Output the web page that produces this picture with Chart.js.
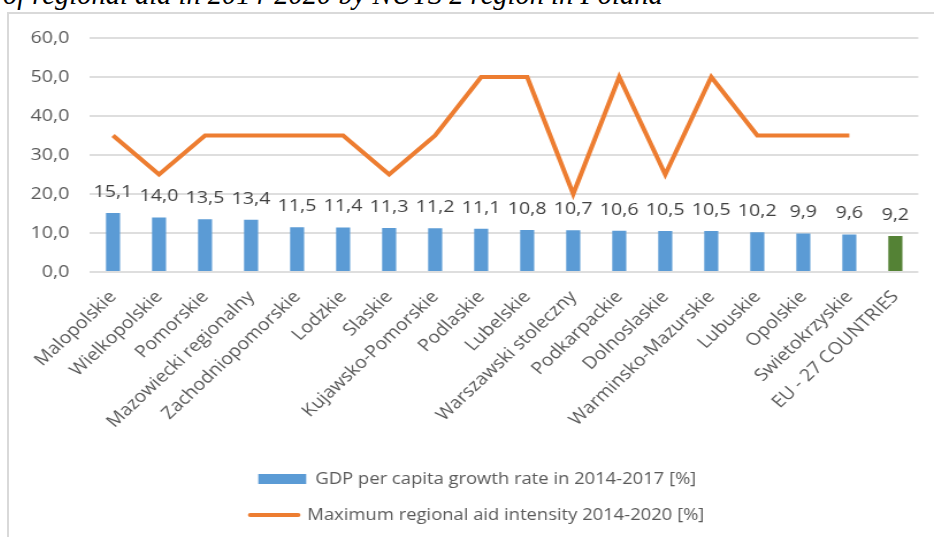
<!DOCTYPE html>
<html>
<head>
<meta charset="utf-8">
<script src="https://cdn.jsdelivr.net/npm/chart.js@4.4.0/dist/chart.umd.min.js"></script>
<style>
  html, body { margin: 0; padding: 0; background: #fff; overflow: hidden; }
  body { width: 934px; height: 537px; position: relative; }
  #title { position: absolute; left: 3px; top: -20px; font: italic 28.5px/29px "Liberation Serif", serif; color: #000; white-space: nowrap; }
  #frame { position: absolute; left: 7px; top: 12px; width: 927px; height: 525px; box-sizing: border-box; border-left: 2px solid #d9d9d9; border-top: 2px solid #d9d9d9; }
  #wrap { position: absolute; left: 9px; top: 14px; width: 804px; height: 523px; transform: scaleX(1.1505); transform-origin: 0 0; }
</style>
</head>
<body>
<div id="title">of regional aid in 2014-2020 by NUTS 2 region in Poland</div>
<div id="frame"></div>
<div id="wrap"><canvas id="chart" width="804" height="523"></canvas></div>
<script>
const regions = ['Malopolskie', 'Wielkopolskie', 'Pomorskie', 'Mazowiecki regionalny', 'Zachodniopomorskie',
  'Lodzkie', 'Slaskie', 'Kujawsko-Pomorskie', 'Podlaskie', 'Lubelskie', 'Warszawski stoleczny',
  'Podkarpackie', 'Dolnoslaskie', 'Warminsko-Mazurskie', 'Lubuskie', 'Opolskie', 'Swietokrzyskie',
  'EU - 27 COUNTRIES'];
const gdpGrowth = [15.1, 14.0, 13.5, 13.4, 11.5, 11.4, 11.3, 11.2, 11.1, 10.8, 10.7, 10.6, 10.5, 10.5, 10.2, 9.9, 9.6, 9.2];
const aidIntensity = [35, 25, 35, 35, 35, 35, 25, 35, 50, 50, 20, 50, 25, 50, 35, 35, 35, null];
const yTicks = [0, 10, 20, 30, 40, 50, 60];

const BLUE = '#5B9BD5';
const GREEN = '#548235';
const ORANGE = '#ED7D31';

Chart.defaults.font.family = '"Open Sans", sans-serif';

function fmt(v) {
  return v.toFixed(1).replace('.', ',');
}

// value labels above the bars
const valueLabels = {
  id: 'valueLabels',
  afterDatasetsDraw(chart) {
    const meta = chart.getDatasetMeta(0);
    const ctx = chart.ctx;
    ctx.save();
    ctx.font = '17px "Open Sans"';
    ctx.fillStyle = '#404040';
    ctx.textAlign = 'center';
    ctx.textBaseline = 'middle';
    meta.data.forEach(function(bar, i) {
      ctx.fillText(fmt(gdpGrowth[i]), bar.x, bar.y - 21);
    });
    ctx.restore();
  }
};

new Chart(document.getElementById('chart'), {
  data: {
    labels: regions,
    datasets: [{
      type: 'bar',
      label: 'GDP per capita growth rate in 2014-2017 [%]',
      data: gdpGrowth,
      backgroundColor: regions.map(r => r.startsWith('EU') ? GREEN : BLUE),
      barPercentage: 0.305,
      categoryPercentage: 1,
      order: 1
    }, {
      type: 'line',
      label: 'Maximum regional aid intensity 2014-2020 [%]',
      data: aidIntensity,
      borderColor: ORANGE,
      borderWidth: 4,
      pointRadius: 0,
      tension: 0,
      fill: false,
      order: 0
    }]
  },
  options: {
    responsive: false,
    animation: false,
    layout: {
      padding: { top: 24, left: 14, right: 4, bottom: 4 }
    },
    plugins: {
      tooltip: { enabled: false },
      legend: {
        position: 'bottom',
        labels: {
          usePointStyle: true,
          pointStyleWidth: 41.7,
          boxHeight: 10,
          padding: 20,
          color: '#595959',
          font: { size: 16 },
          generateLabels: function(chart) {
            return chart.data.datasets.map(function(ds, i) {
              const isBar = ds.type === 'bar';
              return {
                text: ds.label,
                fillStyle: isBar ? BLUE : ORANGE,
                strokeStyle: isBar ? BLUE : ORANGE,
                lineWidth: isBar ? 0 : 4,
                lineCap: 'round',
                pointStyle: isBar ? 'rect' : 'line',
                fontColor: '#595959',
                hidden: false,
                datasetIndex: i
              };
            });
          }
        }
      }
    },
    scales: {
      x: {
        grid: { display: false },
        border: { display: false },
        ticks: {
          autoSkip: false,
          minRotation: 47,
          maxRotation: 47,
          padding: 7,
          color: '#595959',
          font: { size: 17 }
        },
        afterFit: function(scale) { scale.height = 179; }
      },
      y: {
        min: 0,
        max: 60,
        afterBuildTicks: function(scale) {
          scale.ticks = yTicks.map(v => ({ value: v }));
        },
        grid: { color: '#dedede', lineWidth: 2, drawTicks: true, tickLength: 15, tickColor: 'rgba(0,0,0,0)' },
        border: { display: false },
        ticks: {
          padding: 3,
          color: '#595959',
          font: { size: 17 },
          callback: function(value) { return fmt(value); }
        },
        afterFit: function(scale) { scale.width = 56.4; }
      },
      // empty right margin so the legend sits where it does in the original
      yRight: {
        position: 'right',
        min: 0,
        max: 60,
        grid: { display: false },
        border: { display: false },
        ticks: { display: false },
        afterFit: function(scale) { scale.width = 9.6; }
      }
    }
  },
  plugins: [valueLabels]
});
</script>
</body>
</html>
